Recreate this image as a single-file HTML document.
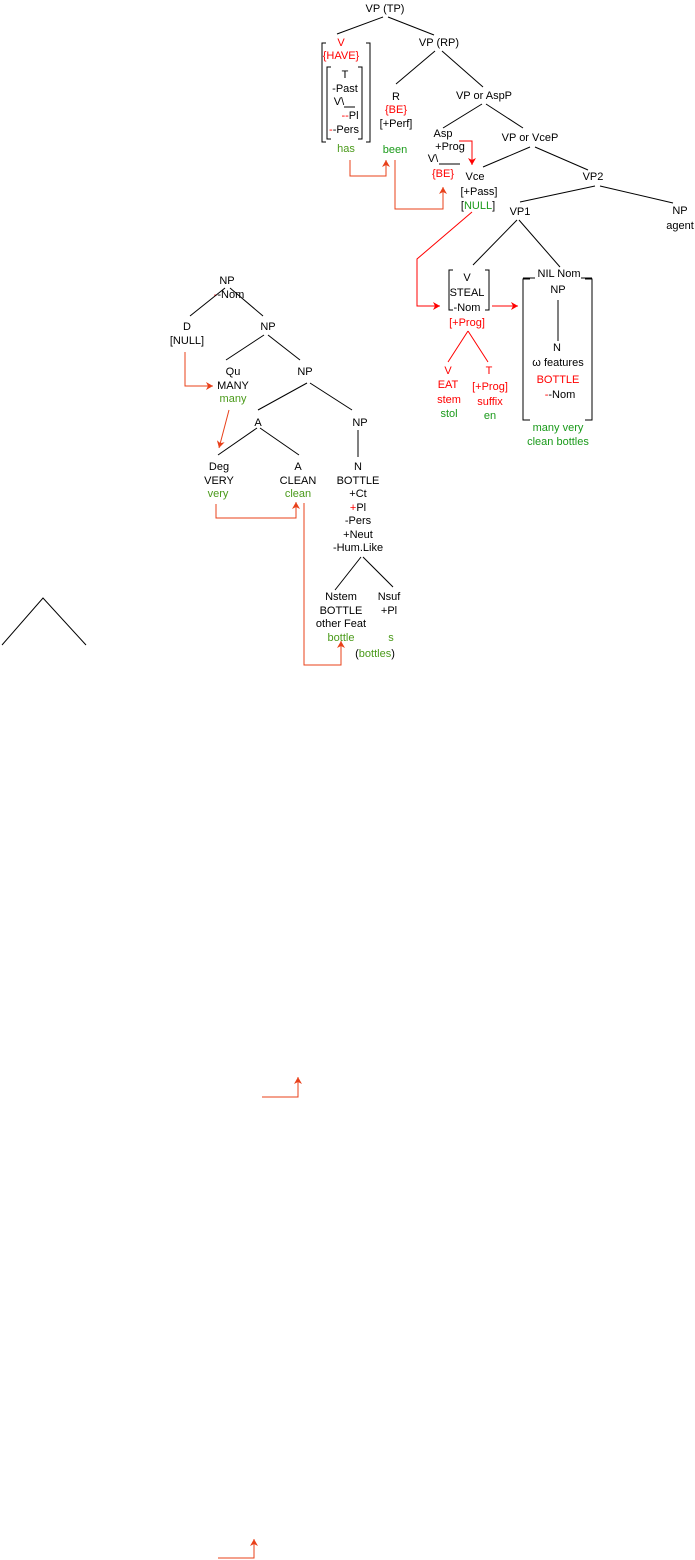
<!DOCTYPE html>
<html><head><meta charset="utf-8"><style>
html,body{margin:0;padding:0;background:#fff;width:695px;height:1560px;overflow:hidden}
svg{display:block}
text{font-family:"Liberation Sans",sans-serif;font-size:11px;text-anchor:middle;fill:#000}
.r{fill:#f00}.g{fill:#1a9a1a}.o{fill:#4a9a1a}
line,polyline,path{stroke:#000;stroke-width:1;fill:none}
.ar{stroke:#e8401a}.rd{stroke:#f00}
path.ha{fill:#e8401a;stroke:none}
path.hr{fill:#f00;stroke:none}
</style></head><body>
<svg width="695" height="1560" viewBox="0 0 695 1560">
<defs>
<marker id="a" markerWidth="8" markerHeight="8" refX="7" refY="4" orient="auto" markerUnits="userSpaceOnUse"><path class="ha" d="M0,0 L7,4 L0,8 L2,4 Z"/></marker>
<marker id="b" markerWidth="8" markerHeight="8" refX="7" refY="4" orient="auto" markerUnits="userSpaceOnUse"><path class="hr" d="M0,0 L7,4 L0,8 L2,4 Z"/></marker>
</defs>
<!-- top tree -->
<text x="385" y="12">VP (TP)</text>
<line x1="337" y1="34" x2="383" y2="17"/><line x1="388" y1="17" x2="434" y2="35"/>
<text x="341" y="46" class="r">V</text>
<text x="341" y="59" class="r">{HAVE}</text>
<path d="M326,43 H322 V142 H326"/><path d="M366,43 H370 V142 H366"/>
<path d="M331,67 H327 V139 H331"/><path d="M358,67 H362 V139 H358"/>
<text x="345" y="78">T</text>
<text x="345" y="92">-Past</text>
<text x="339" y="105">V\</text><line x1="344" y1="107" x2="355" y2="107"/>
<text x="350" y="119"><tspan class="r">--</tspan>Pl</text>
<text x="344" y="133"><tspan class="r">-</tspan>-Pers</text>
<text x="346" y="152" class="o">has</text>
<text x="439" y="46">VP (RP)</text>
<line x1="435" y1="51" x2="396" y2="84"/><line x1="442" y1="51" x2="483" y2="87"/>
<text x="396" y="100">R</text>
<text x="396" y="113" class="r">{BE}</text>
<text x="396" y="127">[+Perf]</text>
<text x="395" y="153" class="g">been</text>
<text x="484" y="99">VP or AspP</text>
<line x1="482" y1="104" x2="443" y2="128"/><line x1="486" y1="104" x2="523" y2="128"/>
<text x="443" y="137">Asp</text>
<text x="450" y="150">+Prog</text>
<text x="433" y="162">V\</text><line x1="439" y1="164" x2="460" y2="164"/>
<text x="443" y="177" class="r">{BE}</text>
<text x="530" y="141">VP or VceP</text>
<line x1="530" y1="147" x2="483" y2="167"/><line x1="535" y1="147" x2="588" y2="170"/>
<text x="475" y="180">Vce</text>
<text x="479" y="195">[+Pass]</text>
<text x="478" y="209">[<tspan class="g">NULL</tspan>]</text>
<text x="593" y="180">VP2</text>
<line x1="595" y1="186" x2="520" y2="202"/><line x1="600" y1="186" x2="673" y2="203"/>
<text x="520" y="215">VP1</text>
<text x="680" y="214">NP</text>
<text x="680" y="229">agent</text>
<line x1="517" y1="220" x2="473" y2="265"/><line x1="519" y1="220" x2="560" y2="267"/>
<path d="M453,270 H449 V310 H453"/><path d="M485,270 H489 V310 H485"/>
<text x="467" y="281">V</text>
<text x="467" y="296">STEAL</text>
<text x="467" y="311">-Nom</text>
<text x="467" y="326" class="r">[+Prog]</text>
<line class="rd" x1="468" y1="331" x2="448" y2="362"/><line class="rd" x1="468" y1="331" x2="488" y2="362"/>
<text x="448" y="374" class="r">V</text>
<text x="448" y="388" class="r">EAT</text>
<text x="449" y="403" class="r">stem</text>
<text x="449" y="417" class="g">stol</text>
<text x="489" y="374" class="r">T</text>
<text x="490" y="390" class="r">[+Prog]</text>
<text x="490" y="405" class="r">suffix</text>
<text x="490" y="419" class="g">en</text>
<path d="M530,279 H523 V420 H530"/><path d="M585,279 H592 V420 H585"/>
<text x="559" y="277">NIL Nom</text>
<text x="558" y="293">NP</text>
<line x1="558" y1="300" x2="558" y2="341"/>
<text x="557" y="351">N</text>
<text x="558" y="366">ω features</text>
<text x="558" y="383" class="r">BOTTLE</text>
<text x="560" y="398"><tspan class="r">-</tspan>-Nom</text>
<text x="558" y="431" class="g">many very</text>
<text x="558" y="445" class="g">clean bottles</text>
<!-- red arrows top -->
<polyline class="rd" points="472,212 417,259 417,306 440,306" marker-end="url(#b)"/>
<line class="rd" x1="492" y1="306" x2="518" y2="306" marker-end="url(#b)"/>
<polyline class="rd" points="459,141 472,141 472,165" marker-end="url(#b)"/>
<polyline class="ar" points="350,160 350,176 386,176 386,160" marker-end="url(#a)"/>
<polyline class="ar" points="395,160 395,209 443,209 443,187" marker-end="url(#a)"/>
<!-- left tree -->
<text x="227" y="284">NP</text>
<text x="229" y="298"><tspan class="r">-</tspan>-Nom</text>
<line x1="225" y1="288" x2="190" y2="316"/><line x1="230" y1="288" x2="263" y2="316"/>
<text x="187" y="330">D</text>
<text x="187" y="344">[NULL]</text>
<text x="268" y="330">NP</text>
<line x1="264" y1="335" x2="226" y2="360"/><line x1="268" y1="335" x2="300" y2="360"/>
<text x="233" y="375">Qu</text>
<text x="233" y="389">MANY</text>
<text x="233" y="402" class="o">many</text>
<text x="305" y="375">NP</text>
<line x1="307" y1="383" x2="258" y2="410"/><line x1="310" y1="383" x2="352" y2="410"/>
<text x="258" y="426">A</text>
<text x="360" y="426">NP</text>
<line x1="358" y1="430" x2="358" y2="457"/>
<line x1="257" y1="428" x2="218" y2="455"/><line x1="260" y1="428" x2="299" y2="455"/>
<text x="219" y="470">Deg</text>
<text x="219" y="484">VERY</text>
<text x="218" y="497" class="o">very</text>
<text x="298" y="470">A</text>
<text x="298" y="484">CLEAN</text>
<text x="298" y="497" class="o">clean</text>
<text x="358" y="470">N</text>
<text x="358" y="484">BOTTLE</text>
<text x="358" y="497">+Ct</text>
<text x="358" y="511"><tspan class="r">+</tspan>Pl</text>
<text x="358" y="524">-Pers</text>
<text x="358" y="538">+Neut</text>
<text x="358" y="551">-Hum.Like</text>
<line x1="361" y1="557" x2="335" y2="590"/><line x1="363" y1="557" x2="393" y2="587"/>
<text x="341" y="600">Nstem</text>
<text x="341" y="614">BOTTLE</text>
<text x="341" y="627">other Feat</text>
<text x="341" y="641" class="o">bottle</text>
<text x="389" y="600">Nsuf</text>
<text x="389" y="614">+Pl</text>
<text x="391" y="641" class="o">s</text>
<text x="375" y="657">(<tspan class="o">bottles</tspan>)</text>
<!-- left red arrows -->
<polyline class="ar" points="185,352 185,386 213,386" marker-end="url(#a)"/>
<line class="ar" x1="229" y1="410" x2="219" y2="448" marker-end="url(#a)"/>
<polyline class="ar" points="216,504 216,518 296,518 296,502" marker-end="url(#a)"/>
<polyline class="ar" points="304,503 304,665 341,665 341,641" marker-end="url(#a)"/>
<!-- triangle -->
<polyline points="2,645 43,598 86,645"/>
<!-- stray arrows -->
<polyline class="ar" points="262,1097 298,1097 298,1077" marker-end="url(#a)"/>
<polyline class="ar" points="218,1558 254,1558 254,1539" marker-end="url(#a)"/>
<line x1="523" y1="278" x2="535" y2="278"/><line x1="581" y1="278" x2="592" y2="278"/>
</svg>
</body></html>
